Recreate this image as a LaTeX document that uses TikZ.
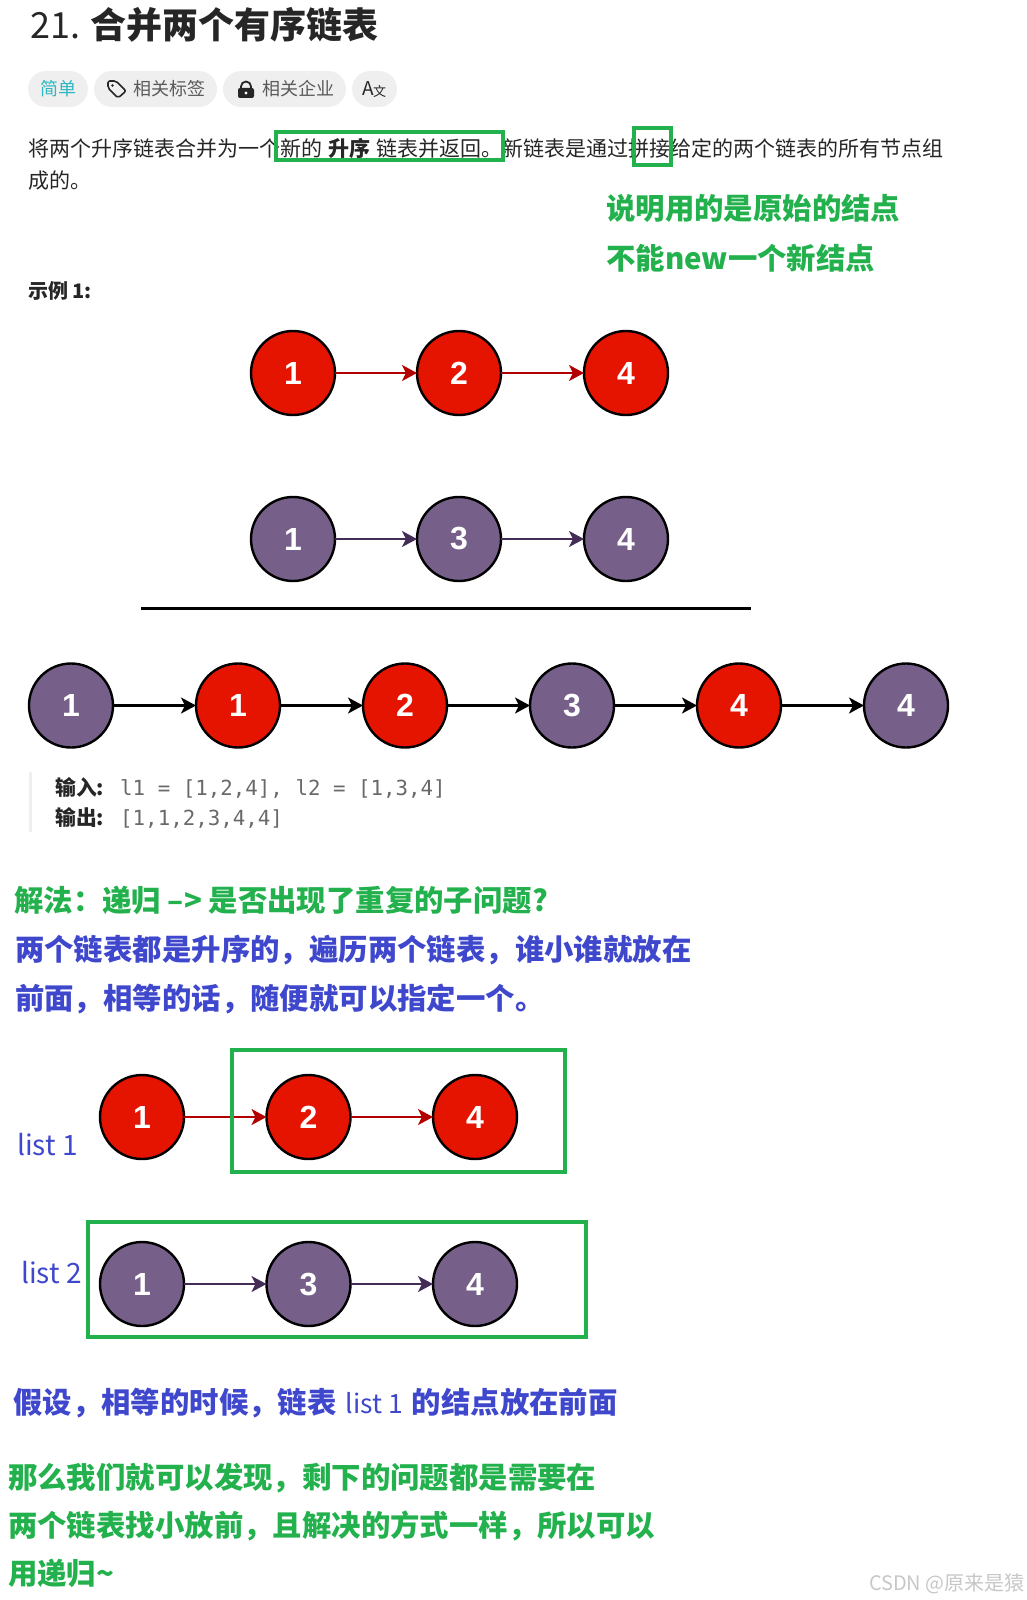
\documentclass[tikz,border=0pt]{standalone}
\usepackage{fontspec}
\setmainfont{Noto Sans CJK SC}
\newfontfamily\codefont{DejaVu Sans Mono}
\newfontfamily\digitfont{Liberation Sans}
\definecolor{lcred}{RGB}{229,20,0}
\definecolor{lcdarkred}{RGB}{178,0,0}
\definecolor{lcpurple}{RGB}{118,96,138}
\definecolor{lcdarkpurple}{RGB}{67,45,87}
\definecolor{lcgreen}{RGB}{34,177,76}
\definecolor{lcblue}{RGB}{63,72,204}
\definecolor{lcteal}{RGB}{45,183,192}
\definecolor{lcpill}{RGB}{239,239,239}
\definecolor{lcbody}{RGB}{38,38,38}
\definecolor{lcmuted}{RGB}{90,90,90}
\definecolor{lccode}{RGB}{105,105,105}
\usetikzlibrary{arrows.meta,positioning}
\tikzset{
  redball/.style={circle,draw=black,line width=2.4pt,fill=lcred,text=white,minimum size=84pt,inner sep=0pt,outer sep=0pt,font=\digitfont\bfseries\fontsize{32}{36}\selectfont},
  purpleball/.style={redball,fill=lcpurple},
  redlink/.style={-{Stealth[inset=4pt,length=15pt,width=16pt]},line width=2pt,draw=lcdarkred},
  purplelink/.style={-{Stealth[inset=4pt,length=15pt,width=16pt]},line width=2pt,draw=lcdarkpurple},
  blacklink/.style={-{Stealth[inset=4pt,length=15pt,width=16pt]},line width=2.4pt,draw=black},
  markbox/.style={draw=lcgreen,line width=4pt,inner sep=0pt,outer sep=0pt},
  pill/.style={fill=lcpill,rounded corners=18pt,minimum height=36pt,inner sep=0pt,outer sep=0pt},
  pilltext/.style={anchor=base west,inner sep=0pt,text=lcmuted,font=\fontsize{18}{22}\selectfont},
  bodytext/.style={anchor=base west,inner sep=0pt,text=lcbody,font=\fontsize{21}{26}\selectfont},
  codetext/.style={anchor=base west,inner sep=0pt,text=lccode,font=\codefont\fontsize{20.8}{26}\selectfont},
  greennote/.style={anchor=base west,inner sep=0pt,text=lcgreen,font=\bfseries\fontsize{29.4}{36}\selectfont},
  bluenote/.style={anchor=base west,inner sep=0pt,text=lcblue,font=\bfseries\fontsize{29.4}{36}\selectfont},
  listname/.style={anchor=base west,inner sep=0pt,text=lcblue,font=\fontsize{28}{34}\selectfont}
}
\begin{document}
\begin{tikzpicture}[x=1pt,y=-1pt]
  \useasboundingbox (0,0) rectangle (1026,1600);

  \node[anchor=base west,inner sep=0pt,text=lcbody,font=\fontsize{36}{42}\selectfont]
        (title) at (30,39) {21. \textbf{合并两个有序链表}};

  \node[pill,minimum width=60pt,text=lcteal,font=\fontsize{18}{22}\selectfont] (pilleasy) at (58,89) {简单};
  \node[pill,minimum width=123pt] (pilltag) at (155.5,89) {};
  \node[pill,minimum width=123pt] (pillfirm) at (284.5,89) {};
  \node[pill,minimum width=45pt] (pilllang) at (374.5,89) {};
  \node[pilltext] (tagtext) at (133,96) {相关标签};
  \node[pilltext] (firmtext) at (262,96) {相关企业};
  \node[anchor=base,inner sep=0pt,text=lcbody,font=\fontsize{19}{22}\selectfont] (langtext) at (374.5,96)
        {A\kern-1.5pt\raisebox{-1pt}{\fontsize{13}{14}\selectfont 文}};
  \draw[lcbody,line width=1.6pt,rounded corners=2pt] (108,81) -- (116,81) -- (126,91) -- (118,98) -- (108,88) -- cycle;
  \fill[lcbody] (112.5,85.5) circle (1.3pt);
  \fill[lcbody,rounded corners=2pt] (238,88) rectangle (254,98);
  \draw[lcbody,line width=1.8pt] (241,89) -- (241,86.5) arc[start angle=180,end angle=0,radius=5pt] -- (251,89);
  \fill[white] (246,93) circle (1.7pt);

  \node[bodytext] (para1) at (28,156)
        {将两个升序链表合并为一个新的\hspace{6pt}\textbf{升序}\hspace{6pt}链表并返回。新链表是通过拼接给定的两个链表的所有节点组};
  \node[bodytext] (para2) at (28,188) {成的。};
  \node[markbox,minimum width=227pt,minimum height=28pt] (boxnew) at (389.5,146) {};
  \node[markbox,minimum width=37pt,minimum height=37pt] (boxjoin) at (652.5,146.5) {};

  \node[greennote] (note1) at (606,219) {说明用的是原始的结点};
  \node[greennote] (note2) at (606,269) {不能new一个新结点};
  \node[anchor=base west,inner sep=0pt,text=lcbody,font=\bfseries\fontsize{20}{24}\selectfont]
        (sample) at (28,298) {示例 1:};

  \node[redball] (a1) at (293,373) {1};
  \node[redball] (a2) at (459,373) {2};
  \node[redball] (a3) at (626,373) {4};
  \draw[redlink] (a1) -- (a2);
  \draw[redlink] (a2) -- (a3);

  \node[purpleball] (b1) at (293,539) {1};
  \node[purpleball] (b2) at (459,539) {3};
  \node[purpleball] (b3) at (626,539) {4};
  \draw[purplelink] (b1) -- (b2);
  \draw[purplelink] (b2) -- (b3);

  \coordinate (ruleleft) at (141,608.5);
  \coordinate (ruleright) at (751,608.5);
  \draw[black,line width=2.4pt] (ruleleft) -- (ruleright);

  \node[purpleball] (c1) at (71,705.5) {1};
  \node[redball] (c2) at (238,705.5) {1};
  \node[redball] (c3) at (405,705.5) {2};
  \node[purpleball] (c4) at (572,705.5) {3};
  \node[redball] (c5) at (739,705.5) {4};
  \node[purpleball] (c6) at (906,705.5) {4};
  \foreach \u/\v in {c1/c2,c2/c3,c3/c4,c4/c5,c5/c6}
    \draw[blacklink] (\u) -- (\v);

  \coordinate (quotetop) at (30,772);
  \coordinate (quotebottom) at (30,832);
  \draw[lcpill,line width=3pt] (quotetop) -- (quotebottom);
  \node[anchor=base west,inner sep=0pt,text=lcbody,font=\bfseries\fontsize{20.8}{26}\selectfont]
        (inlabel) at (55,795) {输入:};
  \node[codetext] (invalue) at (120,795) {l1 = [1,2,4], l2 = [1,3,4]};
  \node[anchor=base west,inner sep=0pt,text=lcbody,font=\bfseries\fontsize{20.8}{26}\selectfont]
        (outlabel) at (55,825) {输出:};
  \node[codetext] (outvalue) at (120,825) {[1,1,2,3,4,4]};

  \node[greennote] (solve) at (14,911) {解法：递归 --> 是否出现了重复的子问题?};
  \node[bluenote] (idea1) at (15,960) {两个链表都是升序的，遍历两个链表，谁小谁就放在};
  \node[bluenote] (idea2) at (15,1009) {前面，相等的话，随便就可以指定一个。};

  \node[listname] (name1) at (17,1155) {list 1};
  \node[redball] (d1) at (142,1117) {1};
  \node[redball] (d2) at (308.5,1117) {2};
  \node[redball] (d3) at (475,1117) {4};
  \draw[redlink] (d1) -- (d2);
  \draw[redlink] (d2) -- (d3);
  \node[markbox,minimum width=333pt,minimum height=122pt] (box1) at (398.5,1111) {};

  \node[listname] (name2) at (21,1283) {list 2};
  \node[purpleball] (e1) at (142,1284) {1};
  \node[purpleball] (e2) at (308.5,1284) {3};
  \node[purpleball] (e3) at (475,1284) {4};
  \draw[purplelink] (e1) -- (e2);
  \draw[purplelink] (e2) -- (e3);
  \node[markbox,minimum width=498pt,minimum height=115pt] (box2) at (337,1279.5) {};

  \node[bluenote] (assume) at (13,1413)
        {假设，相等的时候，链表\hspace{9pt}{\mdseries\fontsize{26.5}{32}\selectfont list 1}\hspace{9pt}的结点放在前面};
  \node[greennote] (end1) at (8,1488) {那么我们就可以发现，剩下的问题都是需要在};
  \node[greennote] (end2) at (8,1536) {两个链表找小放前，且解决的方式一样，所以可以};
  \node[greennote] (end3) at (8,1584) {用递归\textasciitilde};

  \node[anchor=base east,inner sep=0pt,text=black!22,font=\fontsize{20}{24}\selectfont]
        (mark) at (1025,1590) {CSDN @原来是猿};
\end{tikzpicture}
\end{document}
